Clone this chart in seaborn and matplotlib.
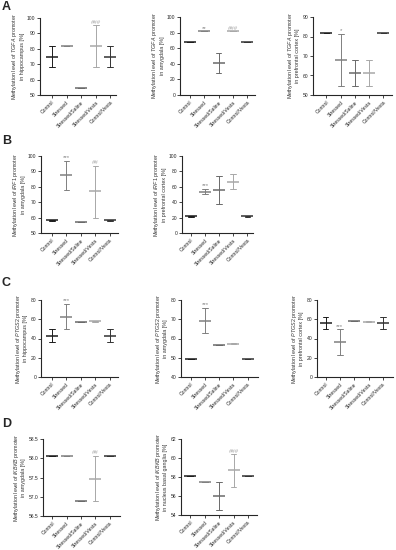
import matplotlib
matplotlib.use("Agg")
import matplotlib.pyplot as plt
import pandas as pd
import seaborn as sns

groups = ["Control", "Stressed", "Stressed/Saline", "Stressed/Vesta", "Control/Vesta"]
palette = ["#1c1c1c", "#808080", "#6a6a6a", "#a8a8a8", "#333333"]

# A - TGFA
tgfa_hip_mean = [74.7, 81.6, 54.4, 81.6, 74.7]
tgfa_hip_lo = [68.2, 81.6, 54.4, 68.2, 68.2]
tgfa_hip_hi = [81.8, 81.6, 54.4, 95.2, 81.8]
tgfa_hip_sig = ["", "", "", "###", ""]

tgfa_amy_mean = [67.7, 81.6, 40.5, 81.6, 67.7]
tgfa_amy_lo = [67.7, 81.6, 27.6, 81.6, 67.7]
tgfa_amy_hi = [67.7, 81.6, 54.3, 81.6, 67.7]
tgfa_amy_sig = ["", "**", "", "###", ""]

tgfa_pfc_mean = [81.6, 67.9, 61.2, 61.2, 81.6]
tgfa_pfc_lo = [81.6, 54.5, 54.5, 54.5, 81.6]
tgfa_pfc_hi = [81.6, 81.4, 68.0, 68.0, 81.6]
tgfa_pfc_sig = ["", "*", "", "", ""]

# B - IRF1
irf1_amy_mean = [58.2, 87.4, 57.4, 77.0, 58.2]
irf1_amy_lo = [57.8, 77.6, 57.4, 60.0, 57.8]
irf1_amy_hi = [58.6, 96.8, 57.4, 93.6, 58.6]
irf1_amy_sig = ["", "***", "", "##", ""]

irf1_pfc_mean = [21.8, 53.6, 55.8, 66.4, 21.8]
irf1_pfc_lo = [21.3, 50.0, 38.0, 56.5, 21.3]
irf1_pfc_hi = [22.3, 57.3, 73.8, 76.3, 22.3]
irf1_pfc_sig = ["", "***", "", "", ""]

# C - PTGS2
ptgs2_hip_mean = [42.4, 62.8, 57.0, 58.0, 42.4]
ptgs2_hip_lo = [36.2, 49.4, 57.0, 57.4, 36.2]
ptgs2_hip_hi = [49.4, 75.8, 57.0, 58.6, 49.4]
ptgs2_hip_sig = ["", "***", "", "", ""]

ptgs2_amy_mean = [49.3, 69.3, 56.8, 57.3, 49.3]
ptgs2_amy_lo = [49.3, 63.1, 56.8, 57.0, 49.3]
ptgs2_amy_hi = [49.3, 76.0, 56.8, 57.6, 49.3]
ptgs2_amy_sig = ["", "***", "", "", ""]

ptgs2_pfc_mean = [56.2, 36.2, 58.0, 57.5, 56.2]
ptgs2_pfc_lo = [49.4, 22.6, 58.0, 57.2, 49.4]
ptgs2_pfc_hi = [62.8, 49.4, 58.0, 57.8, 62.8]
ptgs2_pfc_sig = ["", "***", "", "", ""]

# D - IKBKB
ikbkb_amy_mean = [58.06, 58.06, 56.88, 57.47, 58.06]
ikbkb_amy_lo = [58.06, 58.06, 56.88, 56.88, 58.06]
ikbkb_amy_hi = [58.06, 58.06, 56.88, 58.06, 58.06]
ikbkb_amy_sig = ["", "", "", "##", ""]

ikbkb_nbg_mean = [58.1, 57.5, 56.0, 58.7, 58.1]
ikbkb_nbg_lo = [58.1, 57.5, 54.5, 56.9, 58.1]
ikbkb_nbg_hi = [58.1, 57.5, 57.5, 60.4, 58.1]
ikbkb_nbg_sig = ["", "", "", "###", ""]

sns.set_style("ticks")
plt.rcParams["font.family"] = ["Liberation Sans", "DejaVu Sans"]
plt.rcParams["mathtext.fontset"] = "custom"
plt.rcParams["mathtext.rm"] = "Liberation Sans"
plt.rcParams["mathtext.it"] = "Liberation Sans:italic"
plt.rcParams["axes.linewidth"] = 0.8

W, H = 396, 550
fig = plt.figure(figsize=(W / 100, H / 100), dpi=100)


def panel(box, xlim, mean, lo, hi, sig, gene, region, ylim, yticks, fmt="{:g}"):
    x0, x1, ytop, ybot = box
    ax = fig.add_axes([x0 / W, 1 - ybot / H, (x1 - x0) / W, (ybot - ytop) / H])
    df = pd.DataFrame({
        "group": groups * 3,
        "value": list(lo) + list(mean) + list(hi),
    })
    sns.pointplot(data=df, x="group", y="value", hue="group", order=groups,
                  hue_order=groups, palette=palette, estimator="median",
                  errorbar=lambda v: (v.min(), v.max()), capsize=0.4,
                  markers="_", linestyles="none", markersize=8,
                  markeredgewidth=1.1, err_kws={"linewidth": 0.7},
                  legend=False, ax=ax)
    for i, s in enumerate(sig):
        if s:
            ax.annotate(s, (i, hi[i]), xytext=(0, 0.5), textcoords="offset points",
                        ha="center", va="bottom", fontsize=4.3, color=palette[i])
    ax.set_xlim(*xlim)
    ax.set_ylim(*ylim)
    ax.set_yticks(yticks)
    ax.set_yticklabels([fmt.format(t) for t in yticks])
    ax.set_xticks(range(len(groups)))
    ax.set_xticklabels(groups, rotation=45, ha="right", rotation_mode="anchor")
    ax.tick_params(labelsize=3.6, length=2, width=0.6, pad=1.5)
    ax.set_xlabel("")
    ax.set_ylabel("Methylation level of $\\it{" + gene + "}$ promoter\nin " + region + " [%]",
                  fontsize=3.9, labelpad=1.5, linespacing=1.15, color="#333333")
    sns.despine(ax=ax)
    return ax


panel((40, 116, 18, 95), (-0.83, 4.4), tgfa_hip_mean, tgfa_hip_lo, tgfa_hip_hi, tgfa_hip_sig,
      "TGFA", "hippocampus", (50, 100), [50, 60, 70, 80, 90, 100])
panel((180, 255, 17, 95), (-0.7, 4.55), tgfa_amy_mean, tgfa_amy_lo, tgfa_amy_hi, tgfa_amy_sig,
      "TGFA", "amygdala", (0, 100), [0, 20, 40, 60, 80, 100])
panel((313, 392, 17, 95), (-0.94, 4.6), tgfa_pfc_mean, tgfa_pfc_lo, tgfa_pfc_hi, tgfa_pfc_sig,
      "TGFA", "prefrontal cortex", (50, 90), [50, 60, 70, 80, 90])

panel((41, 118, 156, 233), (-0.75, 4.55), irf1_amy_mean, irf1_amy_lo, irf1_amy_hi, irf1_amy_sig,
      "IRF1", "amygdala", (50, 100), [50, 60, 70, 80, 90, 100])
panel((182, 253, 156, 233), (-0.63, 4.4), irf1_pfc_mean, irf1_pfc_lo, irf1_pfc_hi, irf1_pfc_sig,
      "IRF1", "prefrontal cortex", (0, 100), [0, 20, 40, 60, 80, 100])

panel((41, 118, 300, 377), (-0.77, 4.58), ptgs2_hip_mean, ptgs2_hip_lo, ptgs2_hip_hi, ptgs2_hip_sig,
      "PTGS2", "hippocampus", (0, 80), [0, 20, 40, 60, 80])
panel((181, 258, 300, 377), (-0.7, 4.74), ptgs2_amy_mean, ptgs2_amy_lo, ptgs2_amy_hi, ptgs2_amy_sig,
      "PTGS2", "amygdala", (40, 80), [40, 50, 60, 70, 80])
panel((317, 393, 300, 377), (-0.6, 4.7), ptgs2_pfc_mean, ptgs2_pfc_lo, ptgs2_pfc_hi, ptgs2_pfc_sig,
      "PTGS2", "prefrontal cortex", (0, 80), [0, 20, 40, 60, 80])

panel((43, 120, 439, 516), (-0.63, 4.7), ikbkb_amy_mean, ikbkb_amy_lo, ikbkb_amy_hi, ikbkb_amy_sig,
      "IKBKB", "amygdala", (56.5, 58.5), [56.5, 57.0, 57.5, 58.0, 58.5], fmt="{:.1f}")
panel((181, 257, 439, 515), (-0.65, 4.63), ikbkb_nbg_mean, ikbkb_nbg_lo, ikbkb_nbg_hi, ikbkb_nbg_sig,
      "IKBKB", "nucleus basal ganglia", (54, 62), [54, 56, 58, 60, 62])

for letter, y in [("A", 7), ("B", 141), ("C", 283), ("D", 424)]:
    fig.text(2 / W, 1 - y / H, letter, fontsize=9, fontweight="bold", va="center", ha="left")

fig.savefig("out.png", dpi=100)
